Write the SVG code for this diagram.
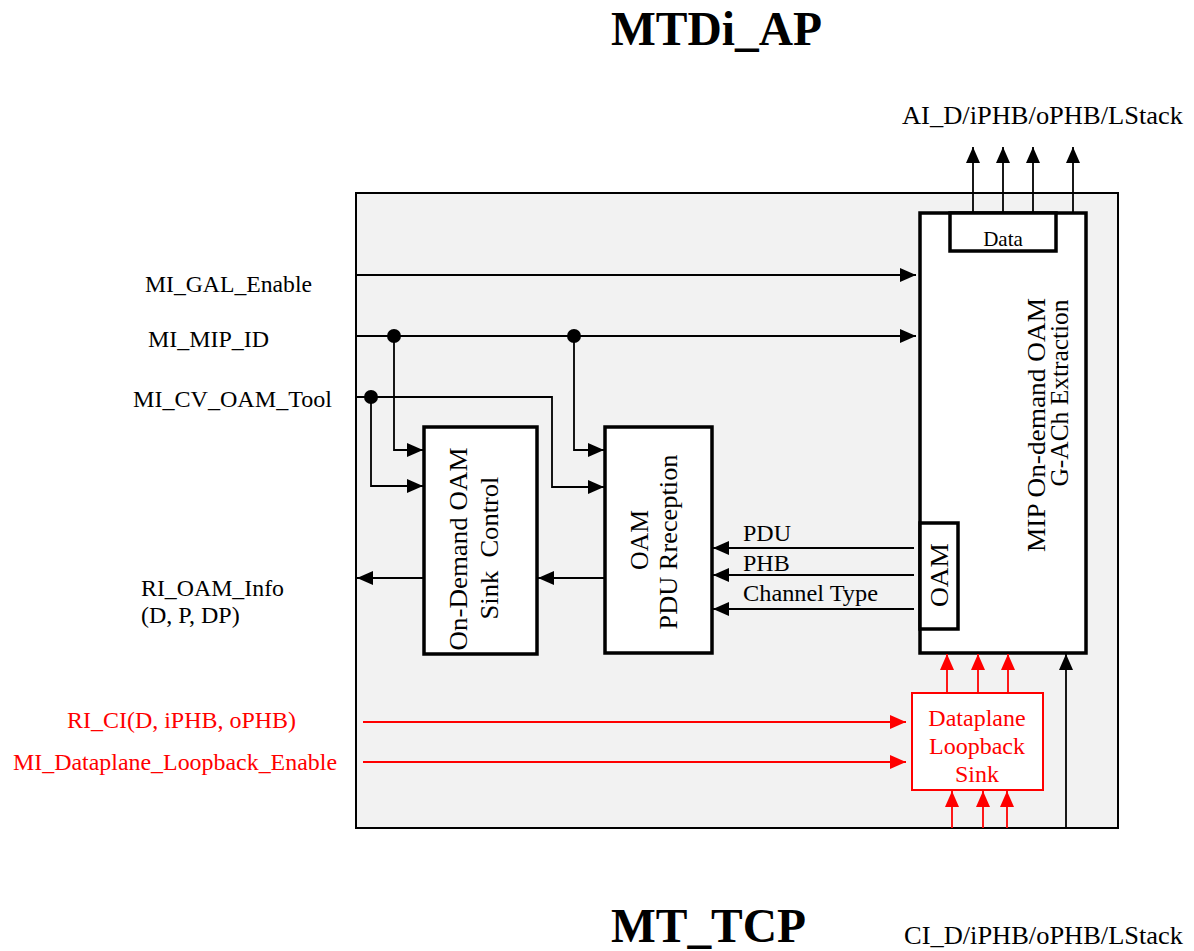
<svg xmlns="http://www.w3.org/2000/svg" width="1194" height="951" viewBox="0 0 1194 951">
<style>
text{font-family:"Liberation Serif","Times New Roman",serif;fill:#000}
.t{font-size:24px}
.r{fill:#ff0000}
.v{font-size:26px}
.ttl{font-size:48px;font-weight:bold}
.blk{fill:#fff;stroke:#000;stroke-width:3.5}
.ln{fill:none;stroke:#000;stroke-width:1.8}
.rl{fill:none;stroke:#ff0000;stroke-width:1.8}
</style>
<defs>
<marker id="ah" markerUnits="userSpaceOnUse" markerWidth="18" markerHeight="14" refX="16" refY="7" orient="auto"><path d="M0,0 L16,7 L0,14 Z" fill="#000"/></marker>
<marker id="ahr" markerUnits="userSpaceOnUse" markerWidth="18" markerHeight="14" refX="16" refY="7" orient="auto"><path d="M0,0 L16,7 L0,14 Z" fill="#ff0000"/></marker>
</defs>
<rect width="1194" height="951" fill="#fff"/>
<text class="ttl" x="611" y="45" textLength="211" lengthAdjust="spacingAndGlyphs">MTDi_AP</text>
<text class="ttl" x="611" y="942" textLength="195" lengthAdjust="spacingAndGlyphs">MT_TCP</text>
<text x="902" y="124" font-size="26" textLength="281" lengthAdjust="spacingAndGlyphs">AI_D/iPHB/oPHB/LStack</text>
<text x="904" y="944" font-size="26" textLength="279" lengthAdjust="spacingAndGlyphs">CI_D/iPHB/oPHB/LStack</text>
<g id="outer"><rect x="356" y="193" width="762" height="635" fill="#f2f2f2" stroke="#000" stroke-width="2"/></g>
<g id="mip">
<rect class="blk" x="920" y="213" width="166" height="440"/>
<rect class="blk" x="950" y="213" width="106" height="38"/>
<text x="1003" y="246" font-size="21" text-anchor="middle">Data</text>
<text class="v" text-anchor="middle" textLength="254" lengthAdjust="spacingAndGlyphs" transform="translate(1045,425) rotate(-90)">MIP On-demand OAM</text>
<text class="v" text-anchor="middle" textLength="187" lengthAdjust="spacingAndGlyphs" transform="translate(1068,393) rotate(-90)">G-ACh Extraction</text>
<rect class="blk" x="920" y="523" width="38" height="106"/>
<text class="v" text-anchor="middle" textLength="64" lengthAdjust="spacingAndGlyphs" transform="translate(948,575) rotate(-90)">OAM</text>
</g>
<g id="pdu">
<rect class="blk" x="605" y="427" width="107" height="226"/>
<text class="v" text-anchor="middle" textLength="60" lengthAdjust="spacingAndGlyphs" transform="translate(648,540) rotate(-90)">OAM</text>
<text class="v" text-anchor="middle" textLength="175" lengthAdjust="spacingAndGlyphs" transform="translate(677,542) rotate(-90)">PDU Rreception</text>
</g>
<g id="sink">
<rect class="blk" x="424" y="427" width="113" height="227"/>
<text class="v" text-anchor="middle" textLength="203" lengthAdjust="spacingAndGlyphs" transform="translate(467,549) rotate(-90)">On-Demand OAM</text>
<text class="v" text-anchor="middle" textLength="143" lengthAdjust="spacingAndGlyphs" transform="translate(498,548) rotate(-90)" xml:space="preserve">Sink  Control</text>
</g>
<g id="loop">
<rect x="912" y="693" width="131" height="97" fill="#fff" stroke="#ff0000" stroke-width="2"/>
<text class="t r" x="977" y="726" text-anchor="middle">Dataplane</text>
<text class="t r" x="977" y="754" text-anchor="middle">Loopback</text>
<text class="t r" x="977" y="782" text-anchor="middle">Sink</text>
</g>
<g id="labels">
<text class="t" x="145" y="292" textLength="167" lengthAdjust="spacingAndGlyphs">MI_GAL_Enable</text>
<text class="t" x="148" y="347" textLength="121" lengthAdjust="spacingAndGlyphs">MI_MIP_ID</text>
<text class="t" x="133" y="407" textLength="199" lengthAdjust="spacingAndGlyphs">MI_CV_OAM_Tool</text>
<text class="t" x="141" y="596" textLength="143" lengthAdjust="spacingAndGlyphs">RI_OAM_Info</text>
<text class="t" x="141" y="623">(D, P, DP)</text>
<text class="t r" x="67" y="728" textLength="229" lengthAdjust="spacingAndGlyphs">RI_CI(D, iPHB, oPHB)</text>
<text class="t r" x="13" y="770" textLength="324" lengthAdjust="spacingAndGlyphs">MI_Dataplane_Loopback_Enable</text>
<text class="t" x="743" y="541">PDU</text>
<text class="t" x="743" y="571">PHB</text>
<text class="t" x="743" y="601" textLength="135" lengthAdjust="spacingAndGlyphs">Channel Type</text>
</g>
<g id="connectors">
<path class="ln" d="M973,213 V147" marker-end="url(#ah)"/>
<path class="ln" d="M1003,213 V147" marker-end="url(#ah)"/>
<path class="ln" d="M1033,213 V147" marker-end="url(#ah)"/>
<path class="ln" d="M1073,213 V147" marker-end="url(#ah)"/>
<path class="ln" d="M356,275 H916" marker-end="url(#ah)"/>
<path class="ln" d="M356,336 H916" marker-end="url(#ah)"/>
<path class="ln" d="M356,397 H552 V487 H604" marker-end="url(#ah)"/>
<path class="ln" d="M394,336 V450 H423" marker-end="url(#ah)"/>
<path class="ln" d="M371,397 V486 H423" marker-end="url(#ah)"/>
<path class="ln" d="M574,336 V450 H604" marker-end="url(#ah)"/>
<circle cx="394" cy="336" r="7"/>
<circle cx="574" cy="336" r="7"/>
<circle cx="371" cy="397" r="7"/>
<path class="ln" d="M424,578 H357" marker-end="url(#ah)"/>
<path class="ln" d="M605,578 H538" marker-end="url(#ah)"/>
<path class="ln" d="M914,548 H713" marker-end="url(#ah)"/>
<path class="ln" d="M914,575 H713" marker-end="url(#ah)"/>
<path class="ln" d="M914,609 H713" marker-end="url(#ah)"/>
<path class="ln" d="M1066,828 V654" marker-end="url(#ah)"/>
<path class="rl" d="M363,722 H906" marker-end="url(#ahr)"/>
<path class="rl" d="M363,762 H906" marker-end="url(#ahr)"/>
<path class="rl" d="M947,693 V654" marker-end="url(#ahr)"/>
<path class="rl" d="M978,693 V654" marker-end="url(#ahr)"/>
<path class="rl" d="M1008,693 V654" marker-end="url(#ahr)"/>
<path class="rl" d="M952,828 V791" marker-end="url(#ahr)"/>
<path class="rl" d="M983,828 V791" marker-end="url(#ahr)"/>
<path class="rl" d="M1007,828 V791" marker-end="url(#ahr)"/>
</g>
</svg>
